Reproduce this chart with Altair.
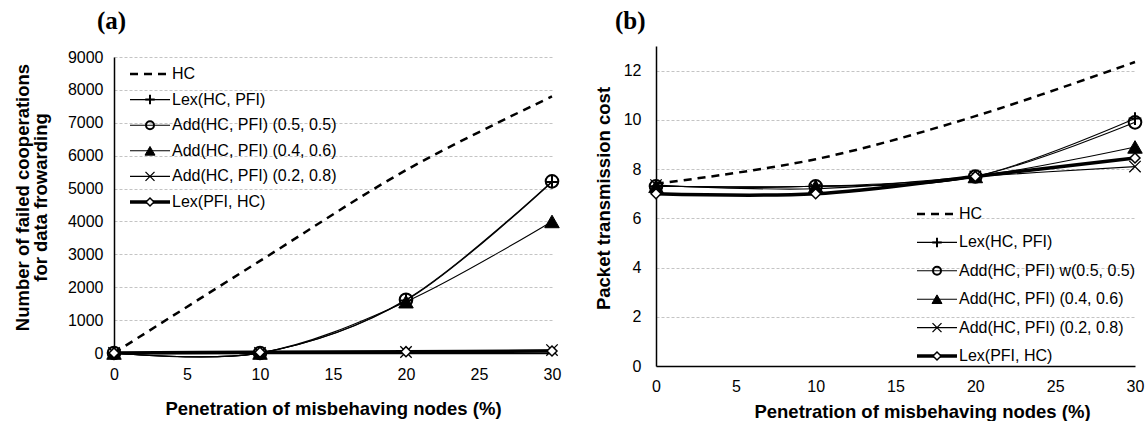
import altair as alt
import pandas as pd

# ---------------- data ----------------
x_vals = [0, 10, 20, 30]
labels_a = ["HC", "Lex(HC, PFI)", "Add(HC, PFI) (0.5, 0.5)", "Add(HC, PFI) (0.4, 0.6)",
            "Add(HC, PFI) (0.2, 0.8)", "Lex(PFI, HC)"]
labels_b = ["HC", "Lex(HC, PFI)", "Add(HC, PFI) w(0.5, 0.5)", "Add(HC, PFI) (0.4, 0.6)",
            "Add(HC, PFI) (0.2, 0.8)", "Lex(PFI, HC)"]

# panel (a): number of failed cooperations
a_hc = [0, 2800, 5560, 7800]
a_lex_hc_pfi = [0, 0, 1600, 5200]
a_add_55 = [0, 0, 1620, 5220]
a_add_46 = [0, 0, 1560, 4000]
a_add_28 = [0, 0, 30, 90]
a_lex_pfi_hc = [0, 20, 40, 60]

# panel (b): packet transmission cost
b_hc = [7.4, 8.4, 10.15, 12.35]
b_lex_hc_pfi = [7.3, 7.3, 7.7, 10.05]
b_add_55 = [7.3, 7.3, 7.7, 9.9]
b_add_46 = [7.3, 7.3, 7.7, 8.9]
b_add_28 = [7.35, 7.2, 7.7, 8.1]
b_lex_pfi_hc = [7.0, 7.0, 7.7, 8.45]

x_ticks = [0, 5, 10, 15, 20, 25, 30]

# ---------------- styles ----------------
PLUS = "M-1,0L1,0M0,-1L0,1"
XMARK = "M-1,-1L1,1M-1,1L1,-1"
marker_shape = ["circle", PLUS, "circle", "triangle-up", XMARK, "diamond"]
marker_fill = ["transparent", "transparent", "transparent", "black", "transparent", "white"]
marker_size_plot = [0, 160, 160, 210, 130, 100]
marker_size_leg = [0, 90, 64, 100, 81, 64]
marker_sw = [0, 2.0, 2.0, 1.0, 1.3, 1.5]
line_sw = [2.5, 1.1, 1.1, 1.1, 1.1, 3.5]

FONT = "Liberation Sans"


def panel(vals, labels, ymax, ystep, w, h, ytop, leg_x, leg_y0, leg_step, title, title_dx,
          title_off, ytitle, ytx, yty, ytbase, ylabpad, xtx, xty, xlabpad):
    rows = []
    for k, v in enumerate(vals):
        for x, y in zip(x_vals, v):
            rows.append(dict(x=x, y=y, k=k, shp=marker_shape[k], fill=marker_fill[k],
                             size=marker_size_plot[k], sw=marker_sw[k]))
    df = pd.DataFrame(rows)
    leg = pd.DataFrame(dict(
        k=list(range(6)), label=labels,
        ly=[leg_y0 + i * leg_step for i in range(6)],
        shp=marker_shape, fill=marker_fill, size=marker_size_leg, sw=marker_sw,
        lw=line_sw,
    ))

    xenc = alt.X("x:Q", scale=alt.Scale(domain=[0, 30], nice=False, zero=False),
                 axis=alt.Axis(values=x_ticks, title="Penetration of misbehaving nodes (%)",
                               grid=False, ticks=False, labelPadding=xlabpad, labelFlush=False,
                               titleX=xtx, titleY=xty, titleBaseline="middle",
                               titleAlign="center", domainWidth=1.5))
    yenc = alt.Y("y:Q", scale=alt.Scale(domain=[0, ymax], nice=False, zero=True,
                                        range=[h, ytop]),
                 axis=alt.Axis(values=list(range(0, int(ymax) + 1, ystep)), format="d",
                               title=ytitle, grid=True, ticks=False, labelFlush=False,
                               labelPadding=ylabpad, titleX=ytx, titleY=yty,
                               titleBaseline=ytbase, titleAlign="center",
                               titleAngle=270, titleLineHeight=18, domainWidth=1.5,
                               gridColor="#c4c4c4", gridDash=[3, 2], gridWidth=1))
    base = alt.Chart(df)
    hc = base.transform_filter("datum.k == 0").mark_line(
        color="black", strokeWidth=2.5, strokeDash=[8, 6], interpolate="cardinal"
    ).encode(x=xenc, y=yenc)
    thin = base.transform_filter("datum.k >= 1 && datum.k <= 4").mark_line(
        color="black", strokeWidth=1.1, interpolate="cardinal"
    ).encode(x=xenc, y=yenc, detail="k:N")
    pts = base.transform_filter("datum.k >= 1 && datum.k <= 4").mark_point(
        stroke="black", opacity=1
    ).encode(x=xenc, y=yenc,
             shape=alt.Shape("shp:N", scale=None),
             fill=alt.Fill("fill:N", scale=None),
             size=alt.Size("size:Q", scale=None),
             strokeWidth=alt.StrokeWidth("sw:Q", scale=None))
    thick = base.transform_filter("datum.k == 5").mark_line(
        color="black", strokeWidth=3.5, interpolate="cardinal"
    ).encode(x=xenc, y=yenc)
    pts2 = base.transform_filter("datum.k == 5").mark_point(
        stroke="black", opacity=1
    ).encode(x=xenc, y=yenc,
             shape=alt.Shape("shp:N", scale=None),
             fill=alt.Fill("fill:N", scale=None),
             size=alt.Size("size:Q", scale=None),
             strokeWidth=alt.StrokeWidth("sw:Q", scale=None))

    lb = alt.Chart(leg)
    ly = alt.Y("ly:Q", scale=None, axis=None)
    l_hc = lb.transform_filter("datum.k == 0").mark_rule(
        color="black", strokeWidth=2.5, strokeDash=[8, 6]
    ).encode(x=alt.value(leg_x), x2=alt.value(leg_x + 40), y=ly)
    l_lines = lb.transform_filter("datum.k >= 1").mark_rule(color="black").encode(
        x=alt.value(leg_x), x2=alt.value(leg_x + 40), y=ly,
        strokeWidth=alt.StrokeWidth("lw:Q", scale=None))
    l_pts = lb.transform_filter("datum.k >= 1").mark_point(stroke="black", opacity=1).encode(
        x=alt.value(leg_x + 20), y=ly,
        shape=alt.Shape("shp:N", scale=None),
        fill=alt.Fill("fill:N", scale=None),
        size=alt.Size("size:Q", scale=None),
        strokeWidth=alt.StrokeWidth("sw:Q", scale=None))
    l_txt = lb.mark_text(align="left", baseline="middle", font=FONT, fontSize=16,
                         color="black").encode(
        x=alt.value(leg_x + 42), y=ly, text="label:N")

    return alt.layer(hc, thin, pts, thick, pts2, l_hc, l_lines, l_pts, l_txt).properties(
        width=w, height=h,
        title=alt.TitleParams(title, font="Liberation Serif", fontSize=25, fontWeight="bold",
                              anchor="start", frame="group", dx=title_dx, offset=title_off,
                              color="black"))


chart_a = panel([a_hc, a_lex_hc_pfi, a_add_55, a_add_46, a_add_28, a_lex_pfi_hc], labels_a,
                9000, 1000, 438, 307, 11, 16, 28, 25.6, "(a)", -17, 12,
                ["Number of failed cooperations", "for data frowarding"], -101, 151, "top", 11,
                219, 55, 13)
chart_b = panel([b_hc, b_lex_hc_pfi, b_add_55, b_add_46, b_add_28, b_lex_pfi_hc], labels_b,
                13, 2, 479, 320, 0, 261, 168, 28.4, "(b)", -41, 12,
                "Packet transmission cost", -53, 152, "middle", 15,
                266, 45, 12)

chart = alt.hconcat(chart_a, chart_b, spacing=31).resolve_scale(y="independent").properties(
    padding={"left": 13, "top": 9, "right": 0, "bottom": 0}
).configure_view(stroke=None).configure_axis(
    labelFont=FONT, titleFont=FONT, labelColor="black", titleColor="black",
    labelFontSize=16, titleFontSize=18.5, titleFontWeight="bold", domainColor="black"
)

chart.save("out.html", embed_options={"renderer": "svg", "actions": False})
